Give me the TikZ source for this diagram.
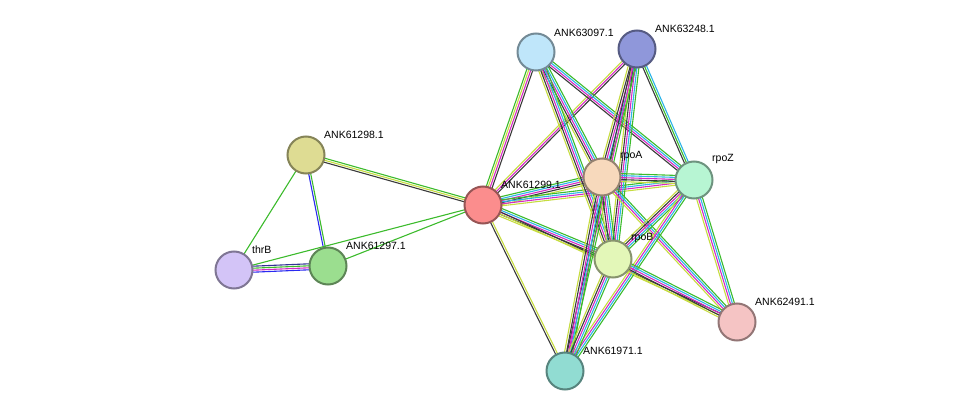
\documentclass[tikz,border=0pt]{standalone}
\usepackage{fontspec}
\setmainfont{Liberation Sans}
\usetikzlibrary{calc,backgrounds}
\definecolor{tm}{HTML}{C6DC40}
\definecolor{co}{HTML}{3A3A3A}
\definecolor{ex}{HTML}{D52AC4}
\definecolor{db}{HTML}{2DB4E8}
\definecolor{nb}{HTML}{3CBB2C}
\definecolor{oc}{HTML}{2A2AF0}
\tikzset{
  prot/.style={circle, draw=#1!60!black, line width=2pt, minimum size=37pt, inner sep=0pt},
  lbl/.style={anchor=south west, font=\fontsize{10.5}{12}\selectfont, inner sep=0pt},
}
\newcommand\linkk[3]{%
  \foreach \c [count=\n] in {#3}{\xdef\nlines{\n}}%
  \foreach \c [count=\i] in {#3}{%
    \pgfmathsetmacro\off{(\i-(\nlines+1)/2)*2}
    \draw[\c, line width=1.1pt] ($(#1)!\off pt!90:(#2)$) -- ($(#2)!\off pt!-90:(#1)$);}}
\begin{document}
\begin{tikzpicture}[x=1pt,y=-1pt]
  \useasboundingbox (0,0) rectangle (975,417);
  \definecolor{cA}{HTML}{BFE6FA}\definecolor{cB}{HTML}{8F97DA}
  \definecolor{cC}{HTML}{DEDC93}\definecolor{cD}{HTML}{FB8D8D}
  \definecolor{cE}{HTML}{F7D9BC}\definecolor{cF}{HTML}{B7F5D3}
  \definecolor{cG}{HTML}{E3F7B8}\definecolor{cH}{HTML}{D3C4F7}
  \definecolor{cI}{HTML}{9BDE8F}\definecolor{cJ}{HTML}{F5C4C4}
  \definecolor{cK}{HTML}{91DCD2}
  \node[prot=cA, fill=cA] (a63097) at (536,52) {};
  \node[prot=cB, fill=cB] (a63248) at (637,49) {};
  \node[prot=cC, fill=cC] (a61298) at (306,155) {};
  \node[prot=cD, fill=cD] (a61299) at (483,205) {};
  \node[prot=cE, fill=cE] (rpoA) at (602,177) {};
  \node[prot=cF, fill=cF] (rpoZ) at (694,180) {};
  \node[prot=cG, fill=cG] (rpoB) at (613,259) {};
  \node[prot=cH, fill=cH] (thrB) at (234,270) {};
  \node[prot=cI, fill=cI] (a61297) at (328,266) {};
  \node[prot=cJ, fill=cJ] (a62491) at (737,322) {};
  \node[prot=cK, fill=cK] (a61971) at (565,371) {};
  \begin{pgfonlayer}{background}
    \linkk{a61298}{a61299}{co,tm,nb}
    \linkk{a61298}{a61297}{oc,nb}
    \linkk{a61298}{thrB}{nb}
    \linkk{thrB}{a61297}{oc,ex,nb,co!50!oc}
    \linkk{thrB}{a61299}{nb}
    \linkk{a61297}{a61299}{nb}
    \linkk{a61299}{a63097}{co,ex,tm,nb}
    \linkk{a61299}{a63248}{co,ex,tm}
    \linkk{a61299}{rpoA}{tm,co,ex,db,nb}
    \linkk{a61299}{rpoZ}{tm,ex,db,nb}
    \linkk{a61299}{rpoB}{tm,co,ex,db,nb}
    \linkk{a61299}{a62491}{tm,co}
    \linkk{a61299}{a61971}{co,tm}
    \linkk{a63097}{rpoA}{tm,co,ex,db,nb}
    \linkk{a63097}{rpoB}{tm,co,ex,db,nb}
    \linkk{a63097}{rpoZ}{co,ex,db,nb}
    \linkk{a63248}{rpoA}{tm,co,ex,db,nb}
    \linkk{a63248}{rpoB}{tm,co,ex,db,nb}
    \linkk{a63248}{rpoZ}{co,nb,db}
    \linkk{a63248}{a61971}{co,ex,nb}
    \linkk{rpoA}{rpoZ}{tm,co,ex,db,nb}
    \linkk{rpoA}{rpoB}{tm,co,ex,db,nb}
    \linkk{rpoA}{a61971}{tm,co,ex,db,nb}
    \linkk{rpoA}{a62491}{tm,ex,db,nb}
    \linkk{rpoZ}{rpoB}{tm,co,ex,db,nb}
    \linkk{rpoZ}{a61971}{tm,ex,db,nb}
    \linkk{rpoZ}{a62491}{tm,ex,db,nb}
    \linkk{rpoB}{a62491}{tm,co,ex,db,nb}
    \linkk{rpoB}{a61971}{tm,co,ex,db,nb}
  \end{pgfonlayer}
  \node[lbl] at (554,37) {ANK63097.1};
  \node[lbl] at (655,33) {ANK63248.1};
  \node[lbl] at (324,139) {ANK61298.1};
  \node[lbl] at (501,189) {ANK61299.1};
  \node[lbl] at (620,161) {rpoA};
  \node[lbl] at (712,164) {rpoZ};
  \node[lbl] at (631,243) {rpoB};
  \node[lbl] at (252,254) {thrB};
  \node[lbl] at (346,250) {ANK61297.1};
  \node[lbl] at (755,306) {ANK62491.1};
  \node[lbl] at (583,355) {ANK61971.1};
\end{tikzpicture}
\end{document}
